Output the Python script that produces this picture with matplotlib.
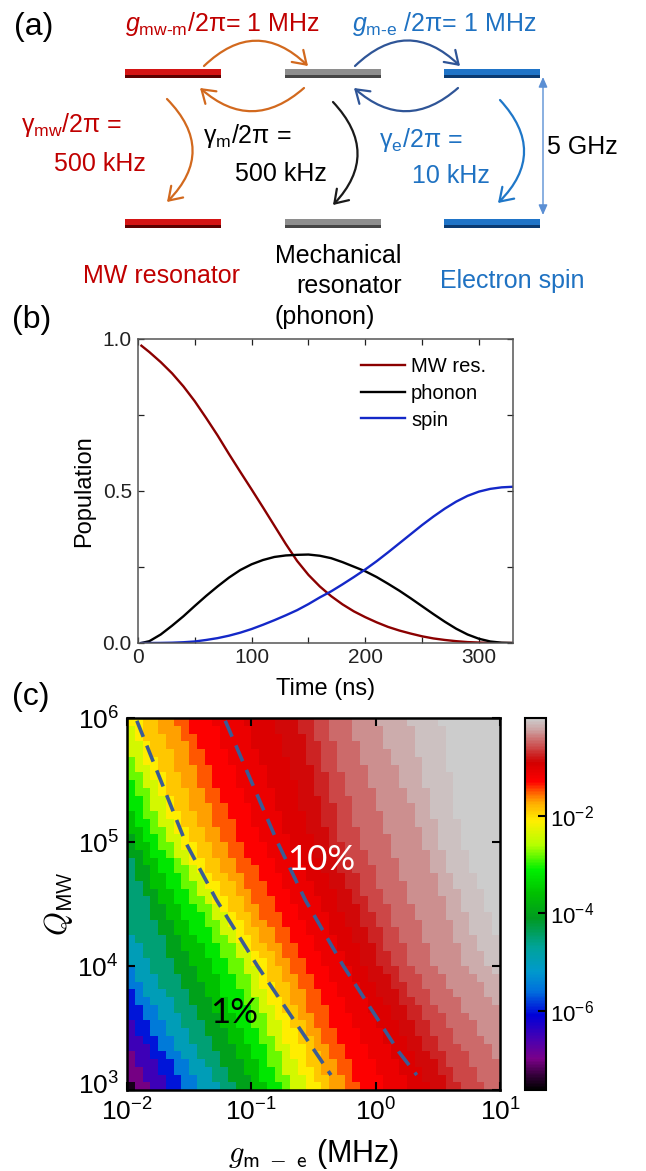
import numpy as np
import matplotlib
matplotlib.use("Agg")
import matplotlib.pyplot as plt
from matplotlib.colors import LinearSegmentedColormap, LogNorm
from matplotlib.patches import Rectangle, FancyArrowPatch
from matplotlib.ticker import MultipleLocator, NullLocator
from matplotlib.transforms import ScaledTranslation
from matplotlib.mathtext import MathTextParser

plt.rcParams["font.family"] = ["Liberation Sans", "DejaVu Sans"]
plt.rcParams["mathtext.fontset"] = "cm"
plt.rcParams["mathtext.rm"] = "Liberation Sans"
plt.rcParams["mathtext.it"] = "Liberation Sans:italic"
plt.rcParams["mathtext.bf"] = "Liberation Sans:bold"

# ---- panel (b): populations ----
time_ns = [3, 10, 20, 30, 40, 50, 60, 70, 80, 90, 100, 110, 120, 130, 140, 150, 160,
           170, 180, 190, 200, 210, 220, 230, 240, 250, 260, 270, 280, 290, 300, 310, 320, 330]
mw_res = [0.978, 0.957, 0.924, 0.887, 0.844, 0.795, 0.740, 0.683, 0.622, 0.563, 0.505,
          0.446, 0.386, 0.326, 0.270, 0.224, 0.186, 0.154, 0.127, 0.104, 0.085, 0.068,
          0.053, 0.041, 0.031, 0.022, 0.015, 0.010, 0.006, 0.003, 0.0015, 0.0005, 0.0, 0.0]
phonon = [0.0, 0.006, 0.028, 0.057, 0.088, 0.122, 0.155, 0.186, 0.215, 0.240, 0.259,
          0.273, 0.283, 0.288, 0.290, 0.291, 0.287, 0.279, 0.266, 0.251, 0.236, 0.217,
          0.195, 0.172, 0.147, 0.121, 0.095, 0.070, 0.047, 0.028, 0.014, 0.005, 0.001, 0.0]
spin = [0.0, 0.0, 0.0003, 0.001, 0.0025, 0.005, 0.010, 0.016, 0.024, 0.034, 0.046,
        0.060, 0.075, 0.091, 0.108, 0.128, 0.150, 0.170, 0.193, 0.217, 0.242, 0.269,
        0.298, 0.328, 0.358, 0.388, 0.416, 0.442, 0.465, 0.484, 0.498, 0.507, 0.512, 0.514]

# ---- panel (c): colour map cells, one letter per cell, log10 level from table ----
level_codes = "abcdefghijklmnopqrstuvwxyzZ"
level_log10 = [-7.5, -7.0, -6.5, -6.0, -5.5, -5.0, -4.5, -4.0, -3.6, -3.2, -2.8, -2.4,
               -2.1, -1.9, -1.7, -1.5, -1.3, -1.15, -1.0, -0.88, -0.75, -0.6, -0.45,
               -0.3, -0.18, -0.08, 0.0]
# top row (Q = 1e6) first, g from 1e-2 (left) to 1e1 (right)
cell_rows = [
    "mmnnooppqqqrrrrsssstttuuvvwwwxxxyyyyzzzzZZZZZZZZ",
    "lmnnooopqqqqrrrrssstttuuvvwwwxxxxyyyyzzzzZZZZZZZ",
    "lmnnnooppqqqrrrrsssstttuvvwwwxxxxyyyyzzzzZZZZZZZ",
    "llmnnooopqqqrrrrsssstttuuvvwwwxxxyyyyzzzzZZZZZZZ",
    "llmnnnooppqqqrrrrsssttt" + "uuvvwwwxxxxyyyzzzzZZZZZZZ",
    "klmmnnooppqqqrrrrssssttuuvvwwwxxxxyyyyzzzZZZZZZZ",
    "kllmnnoooppqqqrrrrssstttuvvwwwwxxxxyyyzzzZZZZZZZ",
    "kklmmnnooppqqqrrrrsssttt" + "uuvvwwwxxxxyyyzzzzZZZZZZ",
    "jkllmnnooppqqqrrrrssssttuuvvwwwxxxxyyyzzzzZZZZZZ",
    "jkklmnnnooppqqqrrrrsssttuuvvwwwwxxxxyyyzzzZZZZZZ",
    "jjkllmnnooppqqqrrrrssstttuvvvwwwxxxxyyyzzzZZZZZZ",
    "jjkllmnnoooppqqqrrrssstttuuvvwwwxxxxxyyzzzZZZZZZ",
    "ijkklmmnnooppqqqrrrrsssttuuvvwwwwxxxxyyzzzZZZZZZ",
    "ijjkllmnnoopppqqrrrrsssttuuvvwwwwxxxxyyyzzzZZZZZ",
    "iijkklmmnnooppqqqrrrsssttt" + "uvvvwwwxxxxxyyzzzZZZZZ",
    "hijjkllmnnooppqqqrrrrsssttuvvvwwwwxxxxyyzzzZZZZZ",
    "hiijkklmmnnooppqqqrrrsssttuuvvwwwwxxxxyyzzzZZZZZ",
    "hhijjkllmnnooppqqqrrrrsstttuvvvwwwxxxxxyyzzzZZZZ",
    "ghiijjklmmnnooppqqqrrrsssttuuvvwwwwxxxxyyzzzZZZZ",
    "ghhijjkklmnnoopppqqrrrrssttuuvvvwwwxxxxyyzzzZZZZ",
    "ghhiijjkllmnnooppqqqrrrsssttuuvvwwwxxxxxyyzzzZZZ",
    "gghiijjkklmmnnopppqqrrrrssttuuvvwwwwxxxxyyzzzZZZ",
    "gghhiijjkllmnnooppqqqrrrsssttuvvvwwwxxxxyyyzzzZZ",
    "ggghiijjkklmmnnopppqqrrrrssttuuvvwwwxxxxxyyzzzZZ",
    "ggghhiijjkklmnnooppqqqrrrsstttuvvvwwwxxxxyyzzzZZ",
    "ggghhiijjjkllmnnopppqqrrrrssttuuvvwwwxxxxyyyzzzZ",
    "gggghhiijjkklmmnooppqqqrrrssttuuvvwwwwxxxxyyzzzZ",
    "gggghhiijjjkllmnnooppqqrrrsssttuuvvwwwxxxxyyzzzZ",
    "fgggghhiijjkklmmnooppqqqrrrssttuuvvwwwxxxxyyyzzz",
    "ffggghhiiijjkklmnnooppqqrrrsssttuvvvwwwxxxxyyzzz",
    "ffggghhhiijjkkllmnnoppqqqrrrssttuuvvwwwxxxxyyyzz",
    "fffggghhiiijjkklmmnooppqqrrrssttuuvvwwwxxxxyyyzz",
    "effggghhhiijjkkllmnnoppqqqrrrssttuuvvwwwxxxxyyyz",
    "efffggghhiiijjkklmnnooppqqrrrsstttuvvvwwwxxxxyyy",
    "eeffggghhhiijjkklmmnnoppqqqrrrssttuuvvwwwxxxxxyy",
    "defffggghhiijjjkllmnnooppqqrrrsstttuvvvwwwxxxxyy",
    "deefffgghhhiijjkklmmnooppqqqrrrssttuuvvwwwwxxxxy",
    "ddeeffggghhiijjjkllmnnopppqqrrrsssttuuvvwwwxxxxx",
    "ddeefffgghhhiijjkklmmnooppqqqrrrssttuuvvvwwwxxxx",
    "cddeeffggghhiijjkkllmnnoppqqqrrrsssttuuvvwwwwxxx",
    "cddeefffgghhhiijjkllmmnooppqqqrrrssttuuvvvwwwxxx",
    "ccddeeffggghhiijjkklmmnnoppqqqrrrsssttuuvvwwwwxx",
    "cccdeefffgghhhiijjkllmmnooppqqqrrrssttuuvvvwwwwx",
    "bccddeeffggghhiijjkklmmnnoppqqqrrrsssttuuvvvwwwx",
    "bcccddeeffgghhhiijkkllmnnooppqqqrrrsstttuvvvwwww",
    "bbccddeefffgghhiijjkllmmnooppqqqrrrsssttuuvvvwww",
    "bbcccddeeffgghhhijjkkllmnnoopqqqqrrrsstttuvvvwww",
    "abbccddeefffgghhiijjkllmmnooppqqqrrrsssttuuvvvww",
]

# dashed iso-lines
one_pct_g = [0.012, 0.0295, 0.0525, 0.112, 0.437]
one_pct_q = [9.5e5, 1.0e5, 3.4e4, 1.0e4, 1.32e3]
ten_pct_g = [0.0617, 0.162, 0.272, 0.55, 1.53, 2.14]
ten_pct_q = [9.5e5, 1.0e5, 3.4e4, 1.0e4, 2.04e3, 1.32e3]

RED = "#c00000"
BLUE_TXT = "#1f72c2"
ORANGE = "#d2691e"
DKBLUE = "#2f5597"
TXT = 18

# short hyphen inside subscripts if this mathtext knows \text
try:
    MathTextParser("path").parse(r"$g_{\mathrm{m}\text{-}\mathrm{e}}$")
    HY = r"\text{-}"
except Exception:
    HY = r"\!-\!"

fig = plt.figure(figsize=(6.46, 11.71), dpi=100)

# ---------------- panel (a): level scheme in pixel coordinates ----------------
ax_a = fig.add_axes([0, 0, 1, 1])
ax_a.set_xlim(0, 646)
ax_a.set_ylim(1171, 0)
ax_a.axis("off")

mode_x = [125, 285, 444]
mode_colors = [("#d41414", "#5c0000"), ("#8e8e8e", "#464646"), ("#1f74c8", "#0a3a72")]
bar_w, bar_h = 96, 9
for x, (c_main, c_dark) in zip(mode_x, mode_colors):
    for y in (69, 219):
        ax_a.add_patch(Rectangle((x, y), bar_w, bar_h, facecolor=c_main, edgecolor="none"))
        ax_a.add_patch(Rectangle((x, y + bar_h - 3.5), bar_w, 3.5, facecolor=c_dark,
                                 edgecolor="none"))

arcs = [
    ((204, 66), (308, 66), -0.48, ORANGE),
    ((304, 88), (200, 88), -0.44, ORANGE),
    ((355, 66), (460, 66), -0.48, DKBLUE),
    ((458, 88), (354, 88), -0.44, DKBLUE),
    ((167, 99), (167, 202), -0.49, ORANGE),
    ((333, 102), (333, 205), -0.47, "#1a1a1a"),
    ((500, 100), (498, 203), -0.48, "#1f77c8"),
]
for start, end, rad, col in arcs:
    ax_a.add_patch(FancyArrowPatch(start, end, connectionstyle=f"arc3,rad={rad}",
                                   arrowstyle="->,head_length=0.45,head_width=0.3",
                                   mutation_scale=20, color=col, lw=1.6,
                                   shrinkA=0, shrinkB=0))
ax_a.add_patch(FancyArrowPatch((543, 77), (543, 215),
                               arrowstyle="<|-|>,head_length=0.5,head_width=0.22",
                               mutation_scale=12, color="#5b8fd4", lw=1.0,
                               shrinkA=0, shrinkB=0))


def label(x, y, s, color="black", size=TXT, **kw):
    ax_a.text(x, y, s, color=color, fontsize=size, va="baseline", ha="left",
              math_fontfamily="custom", **kw)


label(14, 35, "(a)", size=23)
label(125, 31, r"$g_{\mathrm{mw}" + HY + r"\mathrm{m}}$/2π= 1 MHz", RED)
label(352, 31, r"$g_{\mathrm{m}" + HY + r"\mathrm{e}}$ /2π= 1 MHz", BLUE_TXT)
label(21, 132, r"γ$_{\mathrm{mw}}$/2π =", RED)
label(54, 171, "500 kHz", RED)
label(203, 143, r"γ$_{\mathrm{m}}$/2π =")
label(235, 181, "500 kHz")
label(379, 147, r"γ$_{\mathrm{e}}$/2π =", BLUE_TXT)
label(412, 183, "10 kHz", BLUE_TXT)
label(547, 154, "5 GHz")
label(83, 283, "MW resonator", RED)
label(275, 263, "Mechanical")
label(296, 293, "resonator")
label(275, 324, "(phonon)")
label(440, 288, "Electron spin", BLUE_TXT)
label(12, 328, "(b)", size=23)
label(12, 705, "(c)", size=23)

# ---------------- panel (b): population dynamics ----------------
ax_b = fig.add_axes([138 / 646, 1 - 643 / 1171, 375 / 646, 304 / 1171])
ax_b.plot(time_ns, mw_res, color="#8b0000", lw=1.7, label="MW res.")
ax_b.plot(time_ns, phonon, color="black", lw=1.7, label="phonon")
ax_b.plot(time_ns, spin, color="#1428c8", lw=1.7, label="spin")
ax_b.set_xlim(0, 330)
ax_b.set_ylim(0, 1.0)
ax_b.xaxis.set_major_locator(MultipleLocator(100))
ax_b.xaxis.set_minor_locator(MultipleLocator(50))
ax_b.yaxis.set_major_locator(MultipleLocator(0.5))
ax_b.yaxis.set_minor_locator(MultipleLocator(0.25))
ax_b.tick_params(which="both", direction="in", top=True, right=True, labelsize=15,
                 colors="#222222", length=4, width=0.9)
ax_b.tick_params(axis="y", pad=4.5)
for sp in ax_b.spines.values():
    sp.set_color("#555555")
    sp.set_linewidth(1.1)
ax_b.set_xlabel("Time (ns)", fontsize=17, labelpad=8)
ax_b.set_ylabel("Population", fontsize=17, labelpad=5)
ax_b.legend(loc="upper left", bbox_to_anchor=(0.594, 0.94), frameon=False, fontsize=14.5,
            handlelength=2.2, handletextpad=0.3, labelspacing=0.38, borderpad=0,
            borderaxespad=0)

# ---------------- panel (c): map ----------------
cmap_pos = [-7.62, -7.3, -7.0, -6.6, -6.1, -5.6, -5.2, -4.7, -4.1, -3.6, -3.1, -2.6,
            -2.1, -1.75, -1.5, -1.3, -0.9, -0.75, -0.45, -0.2, 0.0]
cmap_col = ["#000000", "#3a0040", "#7a0088", "#4a00b0", "#0000d8", "#0070dd", "#0099cc",
            "#00a39a", "#009a20", "#00c000", "#00f000", "#b4ff00", "#ffee00", "#ffb000",
            "#ff5a00", "#ff0000", "#d20000", "#cc2222", "#cc6a6a", "#cca8a8", "#cccccc"]
lo = cmap_pos[0]
cmap = LinearSegmentedColormap.from_list(
    "map", [((p - lo) / (0 - lo), c) for p, c in zip(cmap_pos, cmap_col)])

for row in cell_rows:
    assert len(row) == 48, (len(row), row)
cells = np.array([[10.0 ** level_log10[level_codes.index(ch)] for ch in row]
                  for row in cell_rows[::-1]])
g_edges = np.logspace(-2, 1, cells.shape[1] + 1)
q_edges = np.logspace(3, 6, cells.shape[0] + 1)

ax_c = fig.add_axes([127 / 646, 1 - 1090 / 1171, 373 / 646, 372 / 1171])
mesh = ax_c.pcolormesh(g_edges, q_edges, cells, cmap=cmap,
                       norm=LogNorm(vmin=10 ** lo, vmax=1.0),
                       shading="flat", antialiased=False, linewidth=0)
ax_c.set_xscale("log")
ax_c.set_yscale("log")
ax_c.set_xlim(1e-2, 1e1)
ax_c.set_ylim(1e3, 1e6)
ax_c.xaxis.set_minor_locator(NullLocator())
ax_c.yaxis.set_minor_locator(NullLocator())
ax_c.tick_params(direction="in", top=True, right=True, length=6, width=1.5,
                 labelsize=19, pad=6)
for sp in ax_c.spines.values():
    sp.set_linewidth(1.8)

dash = (0, (4.8, 2.6))
ax_c.plot(one_pct_g, one_pct_q, color="#3b5b95", lw=2.6, linestyle=dash,
          dash_capstyle="butt")
ax_c.plot(ten_pct_g, ten_pct_q, color="#3b5b95", lw=2.6, linestyle=dash,
          dash_capstyle="butt")
ax_c.text(0.287, 0.207, "1%", transform=ax_c.transAxes, fontsize=25, color="black",
          ha="center", va="center", family=["Lato", "DejaVu Sans"])
ax_c.text(0.52, 0.618, "10%", transform=ax_c.transAxes, fontsize=25, color="white",
          ha="center", va="center", family=["Lato", "DejaVu Sans"])
ax_c.set_xlabel(r"$g_{\mathsf{m\ -\ e}}$ (MHz)", fontsize=22, labelpad=8)
ax_c.set_ylabel(r"$Q_{\mathsf{MW}}$", fontsize=22, labelpad=2)

cax = fig.add_axes([525 / 646, 1 - 1090 / 1171, 21 / 646, 372 / 1171])
cb = fig.colorbar(mesh, cax=cax)
cb.minorticks_off()
cb.set_ticks([1e-2, 1e-4, 1e-6])
cb.set_ticklabels([r"10$^{-2}$", r"10$^{-4}$", r"10$^{-6}$"], math_fontfamily="custom")
cb.ax.tick_params(direction="in", length=6, width=1.5, labelsize=16, pad=3)
cb.outline.set_linewidth(1.5)

# lift the lowest Q label a little so it clears the g labels
fig.canvas.draw()
for lbl in ax_c.get_yticklabels():
    if "{3}" in lbl.get_text():
        lbl.set_transform(lbl.get_transform()
                          + ScaledTranslation(0, 5 / 72, fig.dpi_scale_trans))

fig.savefig("out.png", dpi=100)
